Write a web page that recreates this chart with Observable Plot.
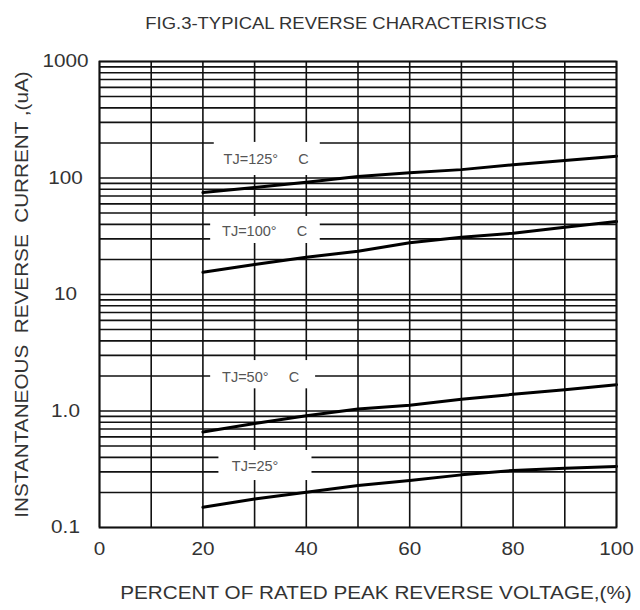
<!DOCTYPE html>
<html>
<head>
<meta charset="utf-8">
<script src="https://cdn.jsdelivr.net/npm/d3@7"></script>
<script src="https://cdn.jsdelivr.net/npm/@observablehq/plot@0.6"></script>
<style>
  html, body { margin: 0; padding: 0; background: #fff; }
  #chart { width: 640px; height: 610px; }
</style>
</head>
<body>
<div id="chart"></div>
<script>
// ---- data ----
const voltage = [20, 30, 40, 50, 60, 70, 80, 90, 100];
const tj125 = [75, 83, 92, 103, 111, 118, 130, 141, 154];
const tj100 = [15.5, 18.1, 20.9, 23.5, 27.8, 31.0, 33.6, 37.8, 42.3];
const tj50  = [0.66, 0.78, 0.91, 1.04, 1.12, 1.26, 1.39, 1.52, 1.68];
const tj25  = [0.149, 0.176, 0.201, 0.229, 0.253, 0.283, 0.309, 0.323, 0.334];

const xTicks = [0, 20, 40, 60, 80, 100];
const xGrid = [0, 10, 20, 30, 40, 50, 60, 70, 80, 90, 100];
const yTicks = [0.1, 1, 10, 100, 1000];
const yTickLabels = ["0.1", "1.0", "10", "100", "1000"];
const yGrid = [0.1, 0.2, 0.3, 0.4, 0.5, 0.6, 0.7, 0.8, 0.9,
               1, 2, 3, 4, 5, 6, 7, 8, 9,
               10, 20, 30, 40, 50, 60, 70, 80, 90,
               100, 200, 300, 400, 500, 600, 700, 800, 900, 1000];

// curve labels (text, start position, white box extents)
const sp = "\u00a0\u00a0\u00a0\u00a0\u00a0";
const labelText = ["TJ=125°" + sp + "C", "TJ=100°" + sp + "C", "TJ=50°" + sp + "C", "TJ=25°"];
const labelX = [24.0, 23.7, 23.7, 25.6];
const labelY = [144, 34.9, 1.95, 0.336];
const boxX1 = [22.2, 21.5, 21.5, 23.1];
const boxX2 = [42.7, 42.7, 41.8, 41.1];
const boxY1 = [105, 27.4, 1.55, 0.253];
const boxY2 = [202, 46.8, 2.71, 0.458];

const title = "FIG.3-TYPICAL REVERSE CHARACTERISTICS";
const xLabel = "PERCENT OF RATED PEAK REVERSE VOLTAGE,(%)";
const yLabel = "INSTANTANEOUS\u00a0\u00a0REVERSE\u00a0\u00a0CURRENT ,(uA)";

// ---- build tables ----
const series = [
  {name: "125", values: tj125},
  {name: "100", values: tj100},
  {name: "50", values: tj50},
  {name: "25", values: tj25}
];
const lineData = series.flatMap(s => s.values.map((v, i) => ({series: s.name, x: voltage[i], y: v})));
const labels = labelText.map((t, i) => ({
  text: t, x: labelX[i], y: labelY[i],
  x1: boxX1[i], x2: boxX2[i], y1: boxY1[i], y2: boxY2[i]
}));

const font = "'Liberation Sans', Arial, Helvetica, sans-serif";

const chart = Plot.plot({
  width: 640,
  height: 610,
  marginTop: 61,
  marginBottom: 83,
  marginLeft: 99,
  marginRight: 24,
  style: {fontFamily: font, background: "#fff", color: "#333", overflow: "visible"},
  x: {domain: [0, 100]},
  y: {type: "log", domain: [0.1, 1000]},
  marks: [
    Plot.ruleX(xGrid, {stroke: "#111", strokeWidth: 1.6}),
    Plot.ruleY(yGrid, {stroke: "#111", strokeWidth: 1.6}),
    Plot.rect(labels, {x1: "x1", x2: "x2", y1: "y1", y2: "y2", fill: "#fff"}),
    Plot.text(labels, {x: "x", y: "y", text: "text", textAnchor: "start", fontSize: 14.5, fill: "#555"}),
    Plot.line(lineData, {x: "x", y: "y", z: "series", stroke: "#000", strokeWidth: 3}),
    Plot.frame({stroke: "#111", strokeWidth: 1.8}),
    Plot.axisX({ticks: xTicks, tickSize: 0, tickPadding: 14, fontSize: 18.5, fill: "#333", label: null}),
    Plot.axisY({ticks: yTicks, tickSize: 0, tickPadding: 34, textAnchor: "middle",
                tickFormat: d => yTickLabels[yTicks.indexOf(d)], fontSize: 18.5, fill: "#333", label: null}),
    Plot.text([title], {text: d => d, frameAnchor: "top", dy: -44, dx: -12, fontSize: 16.5, fill: "#333"}),
    Plot.text([xLabel], {text: d => d, frameAnchor: "bottom", dy: 71, dx: 18, fontSize: 18.5, fill: "#333"}),
    Plot.text([yLabel], {text: d => d, frameAnchor: "left", textAnchor: "middle", dx: -77, rotate: -90, fontSize: 18.5, fill: "#333"})
  ]
});

// the reference lettering is horizontally wide: stretch glyphs along the reading direction
chart.querySelectorAll("text").forEach(t => {
  if (t.textContent.startsWith("TJ=")) return;
  t.setAttribute("transform", (t.getAttribute("transform") || "") + " scale(1.12,1)");
});

document.getElementById("chart").appendChild(chart);
</script>
</body>
</html>
